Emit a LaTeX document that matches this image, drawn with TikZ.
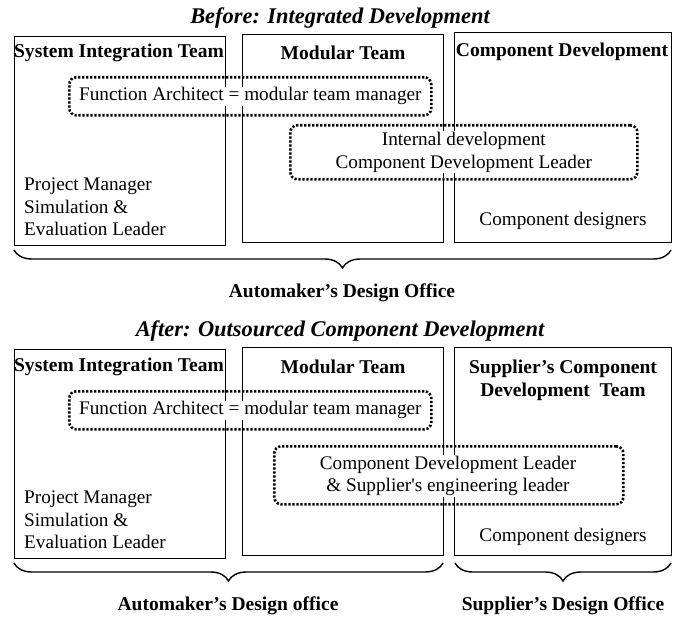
\documentclass[tikz,border=0pt]{standalone}
\usepackage{fontspec}
\setmainfont{Liberation Serif}
\usetikzlibrary{decorations.pathreplacing}
\begin{document}
\begin{tikzpicture}[x=1bp,y=-1bp,
  team/.style={draw, line width=1.4bp, anchor=north west, inner sep=0},
  role/.style={draw, line width=2.6bp, line cap=butt, dash pattern=on 2.2bp off 1.8bp, rounded corners=7bp, anchor=north west, inner sep=0},
  txt/.style={font=\fontsize{19.3}{22.5}\selectfont, inner sep=1bp, fill=white, align=center},
  plain/.style={font=\fontsize{19.3}{22.5}\selectfont, inner sep=0, align=left},
  hdr/.style={font=\fontsize{19.6}{23}\selectfont\bfseries, inner sep=0, align=center},
  ttl/.style={font=\fontsize{22.5}{26}\selectfont\bfseries\itshape, inner sep=0},
  br/.style={decorate, decoration={brace, mirror, amplitude=18bp, aspect=0.5}, line width=1.4bp}]
\useasboundingbox (0,0) rectangle (679,619);

% ---------- Before ----------
\node[ttl] (t1) at (340,18) {Before: Integrated Development};
\node[team, minimum width=211bp, minimum height=209bp] (sit1) at (14,36) {};
\node[team, minimum width=201bp, minimum height=208bp] (mod1) at (242,34) {};
\node[team, minimum width=217bp, minimum height=210bp] (cd1) at (454,32) {};
\node[hdr] (sith1) at (119,53) {System Integration Team};
\node[hdr] (modh1) at (343,53) {Modular Team};
\node[hdr] (cdh1) at (562,52) {Component Development};
\node[role, minimum width=362bp, minimum height=38bp] (fa1) at (68,76) {};
\node[role, minimum width=347bp, minimum height=54bp] (idv1) at (289,124) {};
\node[txt] (fat1) at (fa1.center) {Function Architect = modular team manager};
\node[txt] (idt1) at (idv1.center) {Internal development\\Component Development Leader};
\node[plain, anchor=west] (pm1) at (24,207) {Project Manager\\Simulation \&\\Evaluation Leader};
\node[plain] (cdd1) at (563,221) {Component designers};
\draw[br] (14,250) -- (671,250);
\node[hdr] (ado1) at (342,293) {Automaker’s Design Office};

% ---------- After ----------
\node[ttl] (t2) at (340,331) {After: Outsourced Component Development};
\node[team, minimum width=211bp, minimum height=209bp] (sit2) at (14,349) {};
\node[team, minimum width=201bp, minimum height=208bp] (mod2) at (242,347) {};
\node[team, minimum width=217bp, minimum height=208bp] (cd2) at (454,347) {};
\node[hdr] (sith2) at (119,367) {System Integration Team};
\node[hdr] (modh2) at (343,367) {Modular Team};
\node[hdr] (cdh2) at (563,380) {Supplier’s Component\\Development\ \ Team};
\node[role, minimum width=362bp, minimum height=38bp] (fa2) at (68,390) {};
\node[role, minimum width=349bp, minimum height=58bp] (idv2) at (273,445) {};
\node[txt] (fat2) at (fa2.center) {Function Architect = modular team manager};
\node[txt] (idt2) at (448,476) {Component Development Leader\\\& Supplier\textquotesingle s engineering leader};
\node[plain, anchor=west] (pm2) at (24,520) {Project Manager\\Simulation \&\\Evaluation Leader};
\node[plain] (cdd2) at (563,537) {Component designers};
\draw[br] (14,563) -- (443,563);
\draw[br] (455,563) -- (671,563);
\node[hdr] (ado2) at (228,606) {Automaker’s Design office};
\node[hdr] (sdo2) at (563,606) {Supplier’s Design Office};
\end{tikzpicture}
\end{document}
